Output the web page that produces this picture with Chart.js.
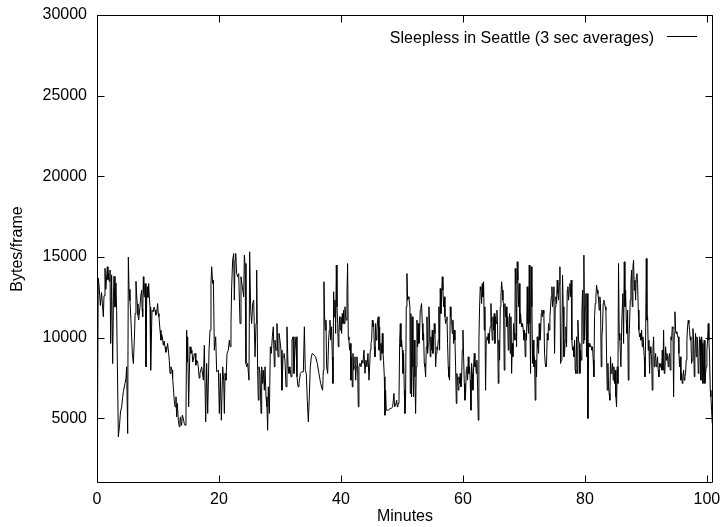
<!DOCTYPE html>
<html><head><meta charset="utf-8">
<script src="https://cdn.jsdelivr.net/npm/chart.js@4"></script>
<style>html,body{margin:0;padding:0;background:#fff}canvas{display:block}</style>
</head><body>
<canvas id="c" width="723" height="527"></canvas>
<script>
const seriesLabel = 'Sleepless in Seattle (3 sec averages)';
const xTitle = 'Minutes';
const yTitle = 'Bytes/frame';
const xTicks = [0, 20, 40, 60, 80, 100];
const yTicks = [5000, 10000, 15000, 20000, 25000, 30000];

const minutes = [
// 0-17
0.00,0.08,0.20,0.35,0.55,0.75,1.04,1.15,1.31,1.45,
1.60,1.69,1.80,1.86,2.00,2.13,2.24,2.40,2.57,2.70,
2.79,2.95,3.11,3.22,3.50,3.70,3.85,4.04,4.20,4.32,
4.59,4.75,4.86,5.03,5.14,5.25,5.41,5.55,5.68,5.80,
5.96,6.12,6.25,6.39,6.50,6.61,6.72,6.83,7.05,7.15,
7.32,7.40,7.49,7.60,7.68,7.76,7.85,7.92,8.03,8.15,
8.25,8.35,8.47,8.60,8.69,8.80,9.02,9.23,9.35,9.51,
9.65,9.78,9.94,10.05,10.16,10.33,10.49,10.60,10.71,10.87,
11.00,11.15,11.30,11.42,11.58,11.75,11.85,11.97,12.13,12.30,
12.40,12.51,12.65,12.79,12.95,13.06,13.17,13.33,13.50,13.60,
13.72,13.80,13.88,14.00,14.15,14.30,14.43,14.59,14.70,14.78,
14.86,15.03,15.15,15.25,15.41,15.57,15.70,15.79,15.95,16.07,
16.20,16.34,16.50,16.61,16.75,16.88,
// 17-34
17.16,17.44,17.60,17.82,17.98,18.15,18.37,18.53,18.69,18.80,
18.97,19.08,19.24,19.46,19.62,19.90,20.06,20.22,20.39,20.61,
20.77,20.88,20.99,21.15,21.32,21.53,21.70,21.81,21.97,22.08,
22.24,22.41,22.52,22.63,22.74,22.90,23.06,23.23,23.45,23.61,
23.83,24.05,24.16,24.27,24.43,24.54,24.70,24.92,25.03,25.20,
25.36,25.52,25.69,25.91,26.07,26.18,26.34,26.45,26.56,26.73,
26.89,27.00,27.16,27.27,27.44,27.55,27.71,27.87,27.98,28.09,
28.26,28.42,28.58,28.75,28.91,29.08,29.18,29.35,29.51,29.68,
29.84,30.00,30.17,30.33,30.50,30.66,30.82,30.99,31.15,31.32,
31.48,31.64,31.81,31.97,32.14,32.30,32.46,32.63,32.79,32.96,
33.12,33.34,33.56,33.83,34.00,
// 34-51
34.15,34.32,34.48,34.65,34.81,34.97,35.14,35.30,35.58,35.85,
36.12,36.39,36.67,36.89,36.99,37.11,37.21,37.32,37.43,37.54,
37.65,37.82,37.98,38.09,38.20,38.31,38.47,38.58,38.69,38.80,
38.91,39.02,39.13,39.24,39.35,39.46,39.56,39.67,39.78,39.89,
40.00,40.11,40.22,40.33,40.44,40.55,40.66,40.77,40.88,40.99,
41.09,41.20,41.31,41.42,41.53,41.64,41.75,41.86,41.97,42.08,
42.19,42.30,42.41,42.51,42.62,42.73,42.84,42.95,43.12,43.28,
43.44,43.61,43.77,43.94,44.10,44.26,44.43,44.59,44.70,44.81,
44.92,45.03,45.14,45.25,45.36,45.47,45.58,45.68,45.79,45.90,
46.01,46.12,46.23,46.34,46.45,46.56,46.67,46.78,46.89,46.98,
47.11,47.21,47.32,47.43,47.60,47.82,48.03,48.25,48.47,48.69,
48.80,48.96,49.13,49.24,49.35,49.51,49.62,49.73,49.84,49.95,
50.06,50.17,50.27,50.38,50.49,50.60,50.71,50.82,50.93,51.04,
51.15,51.31,
// 51-68
51.36,51.47,51.58,51.69,51.80,51.91,52.02,52.13,52.24,52.35,
52.46,52.57,52.68,52.79,52.89,53.00,53.11,53.22,53.33,53.44,
53.55,53.66,53.77,53.88,53.99,54.10,54.21,54.32,54.42,54.53,
54.64,54.75,54.86,54.97,55.08,55.19,55.30,55.41,55.52,55.63,
55.74,55.84,55.95,56.06,56.17,56.28,56.39,56.50,56.61,56.72,
56.83,56.94,57.05,57.16,57.27,57.38,57.48,57.59,57.70,57.81,
57.92,58.03,58.14,58.25,58.36,58.47,58.58,58.69,58.80,58.91,
59.01,59.12,59.23,59.34,59.45,59.56,59.67,59.78,59.89,60.00,
60.11,60.22,60.33,60.44,60.54,60.65,60.76,60.87,60.98,61.09,
61.20,61.31,61.42,61.53,61.64,61.75,61.86,61.97,62.07,62.18,
62.29,62.40,62.51,62.62,62.73,62.84,62.95,63.06,63.17,63.28,
63.39,63.50,63.60,63.71,63.82,63.93,64.04,64.15,64.26,64.37,
64.48,64.59,64.70,64.81,64.92,65.03,65.13,65.24,65.35,65.46,
65.57,65.68,65.79,65.90,66.01,66.12,66.23,66.34,66.45,66.56,
66.66,66.77,66.88,66.99,67.10,67.21,67.32,67.43,67.54,67.65,
67.76,67.87,67.98,68.09,68.19,68.30,68.41,68.52,
// 68-86
68.57,68.68,68.79,68.90,69.01,69.12,69.23,69.34,69.45,69.56,
69.67,69.78,69.89,70.00,70.10,70.21,70.32,70.43,70.54,70.65,
70.76,70.87,70.98,71.09,71.20,71.31,71.42,71.53,71.63,71.74,
71.85,71.96,72.07,72.18,72.29,72.40,72.51,72.62,72.73,72.84,
72.95,73.06,73.16,73.27,73.38,73.49,73.60,73.71,73.82,73.93,
74.04,74.15,74.26,74.37,74.48,74.59,74.69,74.80,74.91,75.02,
75.13,75.24,75.35,75.46,75.57,75.68,75.79,75.90,76.01,76.12,
76.22,76.33,76.44,76.55,76.66,76.77,76.88,76.99,77.10,77.21,
77.32,77.43,77.54,77.65,77.75,77.86,77.97,78.08,78.19,78.30,
78.41,78.52,78.63,78.74,78.85,78.96,79.07,79.18,79.28,79.39,
79.50,79.61,79.72,79.83,79.94,80.05,80.16,80.27,80.38,80.49,
80.60,80.71,80.81,80.92,81.03,81.14,81.25,81.36,81.47,81.58,
81.69,81.80,81.91,82.02,82.13,82.24,82.34,82.45,82.56,82.67,
82.78,82.89,83.00,83.11,83.22,83.33,83.44,83.55,83.66,83.77,
83.87,83.98,84.09,84.20,84.31,84.42,84.53,84.64,84.75,84.86,
84.97,85.08,85.19,85.30,85.41,85.51,85.62,85.73,
// 86-101
85.90,86.07,86.23,86.34,86.45,86.56,86.67,86.78,86.89,87.00,
87.11,87.22,87.32,87.43,87.54,87.65,87.76,87.87,87.98,88.09,
88.20,88.31,88.42,88.53,88.64,88.75,88.85,88.96,89.07,89.18,
89.29,89.40,89.51,89.62,89.73,89.84,89.95,90.06,90.17,90.28,
90.38,90.49,90.60,90.71,90.82,90.93,91.04,91.15,91.26,91.37,
91.48,91.59,91.70,91.81,91.91,92.02,92.13,92.24,92.35,92.46,
92.57,92.68,92.79,92.90,93.01,93.12,93.23,93.34,93.44,93.55,
93.66,93.77,93.88,93.99,94.10,94.21,94.32,94.43,94.54,94.65,
94.76,94.87,94.97,95.08,95.19,95.30,95.41,95.52,95.63,95.74,
95.85,95.96,96.07,96.18,96.29,96.40,96.50,96.61,96.72,96.83,
96.94,97.05,97.16,97.27,97.38,97.49,97.60,97.71,97.82,97.93,
98.03,98.14,98.25,98.36,98.47,98.58,98.69,98.80,98.91,99.02,
99.13,99.24,99.35,99.46,99.56,99.67,99.78,99.89,100.00,100.11,
100.22,100.33,100.44,100.55,100.66,100.77,100.88
];

const bytes = [
// 0-17
3600,4300,13700,13200,12000,12800,11300,12600,14300,13000,
13900,14400,13600,14000,13500,14200,9650,13900,8400,12500,
13800,11900,13400,11700,3860,4600,5400,5700,6300,6650,
7170,7500,8200,4070,15000,13000,12300,11200,10060,9000,
8400,9850,11500,13500,12600,12100,11400,11100,11900,12500,
12950,11800,11300,13780,12800,12540,13300,13360,8200,12600,
13160,12500,13360,12400,11900,7990,11710,11610,11900,11710,
11400,11500,12120,11500,11300,10470,9850,10200,10060,9540,
9800,9440,9100,9230,9650,9030,8600,7790,8200,7990,
7500,6960,6200,5720,6340,5100,5930,4890,4480,5000,
5100,4600,4580,5200,5000,4700,4580,5510,10470,8500,
10060,5720,8000,9440,9030,9230,8500,8610,9000,9030,
8300,8610,8500,8200,7500,7790,
// 17-34
8200,7370,9540,4790,8410,5310,9230,10470,13360,14400,
13360,13570,9230,10060,7890,7990,5310,7790,4890,8200,
7370,5310,7790,7370,9030,9230,9850,9440,10880,13160,
14810,15220,12330,14810,15220,13980,13780,13980,10880,13780,
13160,12540,15120,14600,8410,8200,8410,7370,15330,11710,
10880,12120,12330,8820,10880,14190,7990,6130,8200,7790,
5310,8200,7170,7990,6750,8200,6340,5720,4270,6960,
5310,9440,9030,10060,10680,8200,9850,9230,10880,8820,
10270,9850,9230,6750,8820,9030,8610,6960,10680,8200,
7790,8200,7580,9850,10060,7790,9230,10060,7580,6960,
7170,7790,7890,7890,10680,
// 34-51
7990,7790,6130,4790,6340,8200,8820,9030,8920,8820,
8410,7790,7170,6860,6750,7990,13470,11300,10470,11090,
8200,7790,9850,10470,11090,9850,10680,8820,7170,12850,
11300,12330,10270,14500,11920,10880,9440,10270,11300,10470,
11300,10270,11500,10880,11710,10880,11920,11300,11090,12740,
14600,10060,9850,9230,9650,7370,8820,6960,9030,7990,
8200,8820,7370,8200,8820,8200,5720,8200,8410,8200,
8610,8410,9230,7790,8610,8200,9030,7370,8200,9230,
9650,9850,11090,10680,10880,9440,8820,10880,9850,10470,
11090,11300,9230,10680,8610,9650,9030,10270,9030,8610,
7580,5200,6750,5510,5510,5510,5620,5620,5720,6550,
5720,5820,6130,5720,5930,5930,9650,10880,9440,9850,
9230,7790,9030,6750,5310,6550,11920,13980,12330,12540,
12430,11920,
// 51-68
6550,11500,6340,11300,8200,6340,9850,7580,5310,8200,
11090,9440,10880,9650,10270,11710,11920,12120,10880,9850,
10270,8410,8200,7580,9440,11300,9030,9650,11920,10880,
8820,10060,9230,10470,9030,9850,10880,10270,8200,9030,
9440,9230,9850,11920,9230,13050,11500,12540,13780,12950,
11920,12540,11300,10880,11090,11300,9650,8200,7580,7370,
11920,11300,11090,10270,11090,9650,10470,9850,8200,5930,
7790,7370,6750,7580,7170,7790,6960,7370,9230,10470,
8820,7170,6130,6550,7990,8200,7370,8820,7790,8200,
7370,5510,8410,7790,6750,8200,9030,8200,8410,7790,
8610,6960,4890,9850,11920,13160,12950,12120,13360,12540,
13470,10470,11920,6750,9850,10060,9850,10270,9650,10270,
10680,12120,10880,9850,11300,10470,11500,9650,11300,10880,
11710,10680,7170,9850,8610,11920,12540,13470,12950,12330,
12120,7990,12120,11300,11920,10680,11300,9230,11090,11500,
9030,11300,7790,9650,8820,10880,10270,9850,
// 68-86
14290,13360,9440,14710,13570,11920,13360,10880,11500,10880,
10680,10880,10470,9850,10470,8820,10270,9850,13160,10880,
10270,14500,10880,7790,14400,11920,8410,9850,8200,8820,
6130,8610,7580,10060,9440,9030,10880,9850,10270,11500,
11710,11300,11710,11500,9030,8410,8200,8410,10270,9850,
10880,10470,11300,11920,12540,13160,11920,12330,13160,9030,
11920,12540,12120,13570,12740,12330,13360,14400,8410,8610,
9850,13880,11920,8820,9030,9850,10680,9440,12950,13160,
12330,12950,13360,12540,13570,9850,9230,9440,8820,9850,
7990,7790,10060,7790,11090,9850,9650,7790,9230,8610,
11500,12950,9650,15120,9850,11920,12740,8820,12740,5000,
9650,9650,9440,9540,9440,9230,9440,8610,7580,11300,
12120,12540,13260,12950,12740,12330,11710,12540,12120,8200,
10060,10680,12120,12330,12120,11920,11710,8820,6750,8410,
6960,6550,6130,8820,7790,7990,8410,7370,8200,7170,
7990,6340,5720,8200,7170,14600,10270,9850,
// 86-101
8200,11300,12740,9650,14710,11920,12950,11090,10270,11710,
7370,9850,10880,12330,13360,14190,11920,14400,14810,12950,
13570,12330,13780,13980,13360,11710,10470,10060,10270,9850,
10470,9440,10060,9440,8820,7580,9850,14910,11090,11300,
9230,9850,7790,9440,9030,8820,6750,9230,10060,8200,
8610,9030,8200,8410,8820,7990,7580,8410,8200,8410,
7990,9230,7990,10470,7790,7990,9440,8610,9030,8820,
8200,8820,9030,7990,10060,9850,10680,10570,6340,10270,
11610,10470,10270,10370,10060,10060,9030,8200,8820,7370,
7790,7170,7580,7990,7370,7580,7790,8610,9850,10680,
11090,10880,10470,9850,10060,8410,8610,10570,9850,7580,
9030,10270,8820,10060,9850,7790,8200,10060,9850,7370,
10060,9650,7170,8200,9850,7170,7790,8200,9230,9850,
10880,9850,8820,6750,6340,5510,4690
];

const n = Math.min(minutes.length, bytes.length);
if (minutes.length !== bytes.length) console.warn('length mismatch', minutes.length, bytes.length);
const points = [];
for (let i = 0; i < n; i++) points.push({x: minutes[i], y: bytes[i]});

const FAMILY = '"Liberation Sans", Arial, Helvetica, sans-serif';
const FONT = {family: FAMILY, size: 16, lineHeight: 1.2};

const framePlugin = {
  id: 'gnuFrame',
  afterDatasetsDraw(chart) {
    const {ctx, chartArea: a, scales: {x, y}} = chart;
    const L = Math.round(a.left) + 0.5, R = Math.round(a.right) - 0.5;
    const T = Math.round(a.top) + 0.5, B = Math.round(a.bottom) - 0.5;
    const tl = 7;
    ctx.save();
    ctx.strokeStyle = '#000';
    ctx.lineWidth = 1;
    ctx.beginPath();
    ctx.rect(L, T, R - L, B - T);
    xTicks.forEach(v => {
      const px = Math.round(x.getPixelForValue(v)) + 0.5;
      ctx.moveTo(px, B); ctx.lineTo(px, B - tl);
      ctx.moveTo(px, T); ctx.lineTo(px, T + tl);
    });
    yTicks.forEach(v => {
      const py = Math.round(y.getPixelForValue(v)) + 0.5;
      ctx.moveTo(L, py); ctx.lineTo(L + tl, py);
      ctx.moveTo(R, py); ctx.lineTo(R - tl, py);
    });
    ctx.stroke();
    // key (legend) inside plot, top right
    ctx.font = '16px ' + FAMILY;
    ctx.fillStyle = '#000';
    ctx.textAlign = 'right';
    ctx.textBaseline = 'alphabetic';
    ctx.fillText(seriesLabel, a.right - 59, a.top + 28);
    ctx.beginPath();
    ctx.moveTo(a.right - 46, a.top + 21.5);
    ctx.lineTo(a.right - 16, a.top + 21.5);
    ctx.stroke();
    ctx.restore();
  }
};

new Chart(document.getElementById('c'), {
  type: 'line',
  data: {
    datasets: [{
      label: seriesLabel,
      data: points,
      borderColor: '#000',
      borderWidth: 1,
      pointRadius: 0,
      tension: 0,
      fill: false
    }]
  },
  options: {
    responsive: false,
    animation: false,
    devicePixelRatio: 1,
    parsing: false,
    layout: {padding: {left: 0, right: 10, top: 15, bottom: 0}},
    plugins: {legend: {display: false}, tooltip: {enabled: false}},
    scales: {
      x: {
        type: 'linear', min: 0, max: 101,
        afterBuildTicks: s => { s.ticks = xTicks.map(v => ({value: v})); },
        afterFit: s => { s.height = 44; s.paddingLeft = 0; s.paddingRight = 0; },
        grid: {display: false, drawTicks: false},
        border: {display: false},
        ticks: {color: '#000', font: FONT, padding: 7, maxRotation: 0, autoSkip: false, callback: v => String(v)},
        title: {display: true, text: xTitle, color: '#000', font: FONT, padding: {top: 0, bottom: 1}}
      },
      y: {
        type: 'linear', min: 1000, max: 30000,
        afterBuildTicks: s => { s.ticks = yTicks.map(v => ({value: v})); },
        afterFit: s => { s.width = 97; s.paddingTop = 0; s.paddingBottom = 0; },
        grid: {display: false, drawTicks: false},
        border: {display: false},
        ticks: {color: '#000', font: FONT, padding: 10, autoSkip: false, callback: v => String(v)},
        title: {display: true, text: yTitle, color: '#000', font: FONT, padding: {top: 8, bottom: 0}}
      }
    }
  },
  plugins: [framePlugin]
});
</script>
</body></html>
